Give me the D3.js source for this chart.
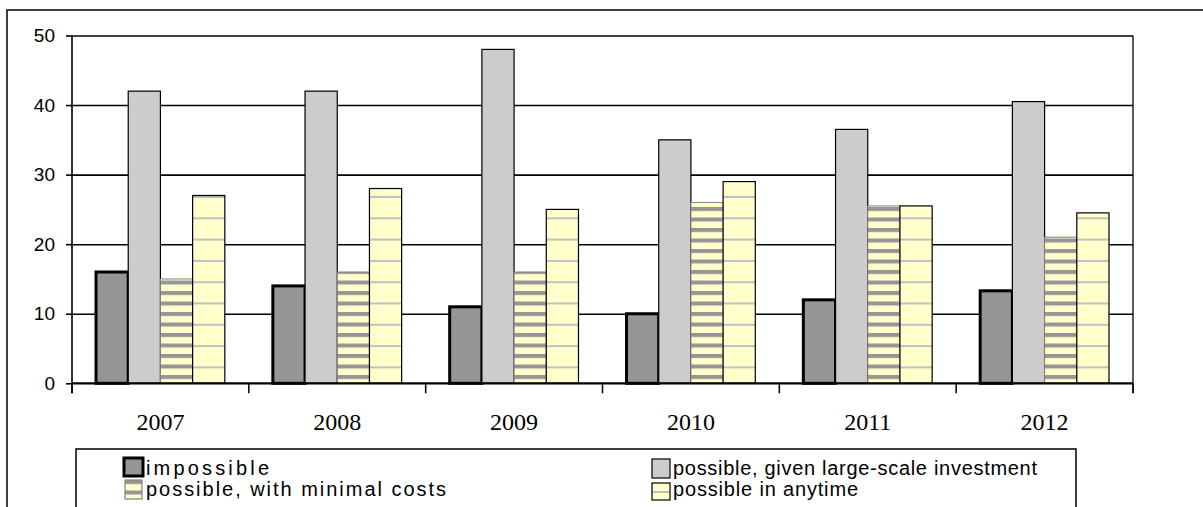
<html>
<head>
<script src="https://d3js.org/d3.v7.min.js"></script>
<style>
  body { margin: 0; background: #fff; }
  text { font-family: "Liberation Sans", Arial, sans-serif; }
</style>
</head>
<body>
<svg width="1203" height="507"></svg>
<script>
// chart data
var years = ["2007", "2008", "2009", "2010", "2011", "2012"];
var seriesNames = ["impossible", "possible, given large-scale investment",
                   "possible, with minimal costs", "possible in anytime"];
var impossible = [16, 14, 11, 10, 12, 13.3];
var largeInvest = [42, 42, 48, 35, 36.5, 40.5];
var minimalCosts = [15, 16, 16, 26, 25.5, 21];
var anytime = [27, 28, 25, 29, 25.5, 24.5];
var yTicks = [0, 10, 20, 30, 40, 50];

var seriesKeys = ["imp", "large", "min", "any"];
var table = years.map(function(y, i) {
    return { year: y, imp: impossible[i], large: largeInvest[i], min: minimalCosts[i], any: anytime[i] };
});

var plotLeft = 72, plotRight = 1133, plotTop = 35.5, plotBottom = 383.3;

var svg = d3.select("svg");
var defs = svg.append("defs");

var x0 = d3.scaleBand().domain(years).range([plotLeft, plotRight]).paddingInner(0.2716).paddingOuter(0.1358);
var x1 = d3.scaleBand().domain(seriesKeys).range([0, x0.bandwidth()]);
var y = d3.scaleLinear().domain([0, 50]).range([plotBottom, plotTop]);

// stripes for "minimal costs"
var stripes = defs.append("pattern").attr("id", "stripes")
    .attr("patternUnits", "userSpaceOnUse")
    .attr("x", 0).attr("y", 375).attr("width", 8).attr("height", 10.5);
stripes.append("rect").attr("width", 8).attr("height", 10.5).attr("fill", "#ffffcc");
stripes.append("rect").attr("width", 8).attr("height", 4).attr("fill", "#969696");

// grid for "anytime" (one tile per year group so the vertical line sits inside each bar)
var gridPat = defs.append("pattern").attr("id", "grid")
    .attr("patternUnits", "userSpaceOnUse")
    .attr("x", plotLeft).attr("y", 197).attr("width", x0.step()).attr("height", 21.3);
gridPat.append("rect").attr("width", x0.step()).attr("height", 21.3).attr("fill", "#ffffcc");
gridPat.append("rect").attr("width", x0.step()).attr("height", 2).attr("y", -1).attr("fill", "#c0c0c0");
gridPat.append("rect").attr("width", x0.step()).attr("height", 2).attr("y", 20.3).attr("fill", "#c0c0c0");
gridPat.append("rect").attr("x", x0.step() * x0.paddingOuter() + x1("any") + 21).attr("width", 2).attr("height", 21.3).attr("fill", "#c0c0c0");

// swatch pattern for legend
var legAny = defs.append("pattern").attr("id", "legAny")
    .attr("patternUnits", "objectBoundingBox").attr("width", 1).attr("height", 1);
legAny.append("rect").attr("width", 18).attr("height", 17).attr("fill", "#ffffcc");
legAny.append("rect").attr("y", 8).attr("width", 18).attr("height", 2).attr("fill", "#c0c0c0");

var fills = { imp: "#969696", large: "#cccccc", min: "url(#stripes)", any: "url(#grid)" };
var strokes = { imp: "#000", large: "#000", min: "#808080", any: "#000" };
var widths = { imp: 3, large: 1.2, min: 1, any: 1.2 };

// outer frame
svg.append("rect").attr("x", 7).attr("y", 10).attr("width", 1250).attr("height", 550)
    .attr("fill", "none").attr("stroke", "#000").attr("stroke-width", 1.5);

// gridlines
svg.append("g")
    .attr("transform", "translate(" + plotLeft + ",0)")
    .call(d3.axisLeft(y).tickValues(yTicks.slice(1)).tickSize(-(plotRight - plotLeft)).tickFormat(""))
    .call(function(g) {
        g.select(".domain").remove();
        g.selectAll("line").attr("stroke", "#000").attr("stroke-width", 1.6);
    });

// right border of plot area
svg.append("line").attr("x1", plotRight).attr("x2", plotRight).attr("y1", plotTop).attr("y2", plotBottom + 10)
    .attr("stroke", "#000").attr("stroke-width", 1.3);

// bars
var groups = svg.append("g").selectAll("g")
    .data(table).join("g")
    .attr("transform", function(d) { return "translate(" + x0(d.year) + ",0)"; });

groups.selectAll("rect")
    .data(function(d) { return seriesKeys.map(function(k) { return { key: k, value: d[k] }; }); })
    .join("rect")
    .attr("x", function(d) { return x1(d.key); })
    .attr("y", function(d) { return y(d.value); })
    .attr("width", x1.bandwidth())
    .attr("height", function(d) { return plotBottom - y(d.value); })
    .attr("fill", function(d) { return fills[d.key]; })
    .attr("stroke", function(d) { return strokes[d.key]; })
    .attr("stroke-width", function(d) { return widths[d.key]; });

// y axis
svg.append("g")
    .attr("transform", "translate(" + plotLeft + ",0)")
    .call(d3.axisLeft(y).tickValues(yTicks).tickSize(6).tickPadding(11).tickSizeOuter(0))
    .call(function(g) {
        g.select(".domain").attr("d", "M0," + plotTop + "V" + (plotBottom + 10)).attr("stroke-width", 1.6);
        g.selectAll("line").attr("stroke-width", 1.6);
        g.selectAll("text").style("font-family", "'Liberation Sans', Arial, sans-serif")
            .style("font-size", "19px").attr("fill", "#000");
    });

// x axis: baseline, group boundary ticks, labels
var boundaries = years.map(function(d) { return x0(d) - x0.step() * x0.paddingOuter(); }).concat([plotRight]);
svg.append("line").attr("x1", plotLeft).attr("x2", plotRight).attr("y1", plotBottom).attr("y2", plotBottom)
    .attr("stroke", "#000").attr("stroke-width", 2.2);
svg.append("g").selectAll("line").data(boundaries).join("line")
    .attr("x1", function(d) { return d; }).attr("x2", function(d) { return d; })
    .attr("y1", plotBottom).attr("y2", plotBottom + 10)
    .attr("stroke", "#000").attr("stroke-width", 1.5);

svg.append("g")
    .attr("transform", "translate(0," + plotBottom + ")")
    .call(d3.axisBottom(x0).tickSize(0).tickPadding(30))
    .call(function(g) {
        g.select(".domain").remove();
        g.selectAll("text").style("font-family", "'Liberation Serif', 'Times New Roman', serif")
            .style("font-size", "24px").attr("fill", "#000");
    });

// legend
svg.append("rect").attr("x", 76).attr("y", 449).attr("width", 1000).attr("height", 100)
    .attr("fill", "#fff").attr("stroke", "#000").attr("stroke-width", 1.5);

var legendItems = [
    { name: seriesNames[0], key: "imp", x: 124, y: 458, w: 19, h: 18, tx: 146, ty: 475, len: 123 },
    { name: seriesNames[1], key: "large", x: 652, y: 459, w: 18, h: 19, tx: 673, ty: 475, len: 364 },
    { name: seriesNames[2], key: "min", x: 125, y: 480, w: 17, h: 19, tx: 146, ty: 496, len: 300 },
    { name: seriesNames[3], key: "any", x: 652, y: 483, w: 18, h: 17, tx: 673, ty: 496, len: 185 }
];
var leg = svg.append("g").selectAll("g").data(legendItems).join("g");
leg.append("rect")
    .attr("x", function(d) { return d.x; }).attr("y", function(d) { return d.y; })
    .attr("width", function(d) { return d.w; }).attr("height", function(d) { return d.h; })
    .attr("fill", function(d) { return d.key == "any" ? "url(#legAny)" : fills[d.key]; })
    .attr("stroke", function(d) { return strokes[d.key]; })
    .attr("stroke-width", function(d) { return d.key == "imp" ? 3 : 1.2; });
leg.append("text")
    .attr("x", function(d) { return d.tx; }).attr("y", function(d) { return d.ty; })
    .attr("textLength", function(d) { return d.len; })
    .attr("lengthAdjust", "spacing")
    .style("font-size", "20px")
    .text(function(d) { return d.name; });
</script>
</body>
</html>
